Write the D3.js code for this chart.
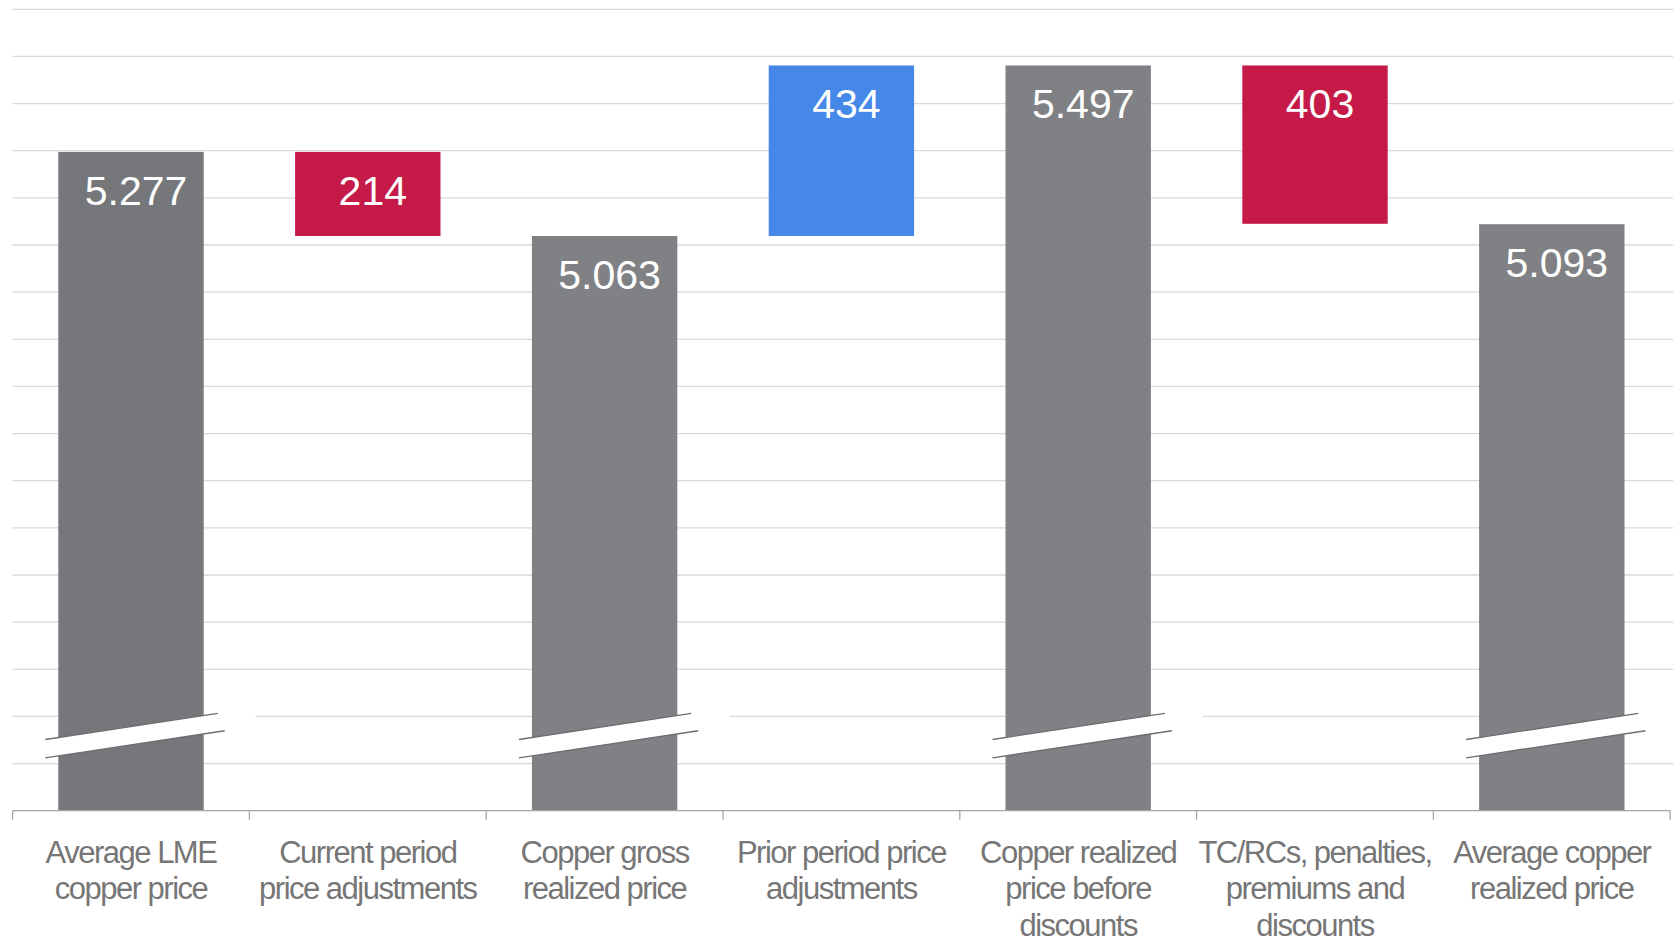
<!DOCTYPE html>
<html>
<head>
<meta charset="utf-8">
<script src="https://cdn.jsdelivr.net/npm/d3@7"></script>
<style>
  html, body { margin: 0; padding: 0; background: #ffffff; }
  svg { display: block; }
</style>
</head>
<body>
<svg id="chart" width="1675" height="942"></svg>
<script>
// Copper price bridge (US$/t): LME average to realized price
const categories = [
  "Average LME copper price",
  "Current period price adjustments",
  "Copper gross realized price",
  "Prior period price adjustments",
  "Copper realized price before discounts",
  "TC/RCs, penalties, premiums and discounts",
  "Average copper realized price"
];
const categoryLines = [
  ["Average LME", "copper price"],
  ["Current period", "price adjustments"],
  ["Copper gross", "realized price"],
  ["Prior period price", "adjustments"],
  ["Copper realized", "price before", "discounts"],
  ["TC/RCs, penalties,", "premiums and", "discounts"],
  ["Average copper", "realized price"]
];
// "total" bars start from the axis; "delta" bars float from the running total
const stepKinds  = ["total", "delta", "total", "delta", "total", "delta", "total"];
const stepValues = [5277, -214, 5063, 434, 5497, -403, 5093];
const valueLabels = ["5.277", "214", "5.063", "434", "5.497", "403", "5.093"];

// value axis (broken at the bottom, labels hidden)
const yMin = 3600, yMax = 5640, yStep = 120;

const svg = d3.select("#chart");
const plotLeft = 12.6, plotRight = 1670.2, plotTop = 9.3, plotBottom = 810.7;

const x = d3.scaleBand()
  .domain(categories)
  .range([plotLeft, plotRight])
  .paddingInner(0.386)
  .paddingOuter(0.386 / 2);

const y = d3.scaleLinear().domain([yMin, yMax]).range([plotBottom, plotTop]);

// gridlines
const gridVals = d3.range(yMin + yStep, yMax + 1, yStep);
svg.append("g")
  .selectAll("line")
  .data(gridVals)
  .join("line")
  .attr("x1", plotLeft).attr("x2", plotRight + 3)
  .attr("y1", d => y(d)).attr("y2", d => y(d))
  .attr("stroke", "#d9d9d9")
  .attr("stroke-width", 1.3);

// bar extents for the waterfall
let running = 0;
const bars = categories.map((c, i) => {
  let lo, hi, color;
  if (stepKinds[i] === "total") {
    lo = yMin; hi = stepValues[i]; running = stepValues[i];
    color = i === 0 ? "#76777a" : "#808184";
  } else {
    const start = running, end = running + stepValues[i];
    lo = Math.min(start, end); hi = Math.max(start, end);
    running = end;
    color = stepValues[i] < 0 ? "#c51a47" : "#4688e8";
  }
  return { cat: c, i, lo, hi, color, kind: stepKinds[i], label: valueLabels[i] };
});

svg.append("g")
  .selectAll("rect")
  .data(bars)
  .join("rect")
  .attr("x", d => x(d.cat))
  .attr("width", x.bandwidth())
  .attr("y", d => y(d.hi))
  .attr("height", d => y(d.lo) - y(d.hi))
  .attr("fill", d => d.color);

// axis break marks across the total bars
const slope = -0.151;
const breakOffset = 75;   // px above the axis at bar centre
const halfGap = 9.2;
const breaks = svg.append("g");
bars.filter(d => d.kind === "total").forEach(d => {
  const bx0 = x(d.cat), bx1 = bx0 + x.bandwidth();
  const cx = bx0 + x.bandwidth() / 2;
  const cy = plotBottom - breakOffset;
  const lineY = (px, off) => cy + off + slope * (px - cx);
  const fx0 = bx0 - 14, fx1 = bx1 + 52;
  breaks.append("path")
    .attr("d", `M${fx0},${lineY(fx0, -halfGap)} L${fx1},${lineY(fx1, -halfGap)} L${fx1},${lineY(fx1, halfGap)} L${fx0},${lineY(fx0, halfGap)} Z`)
    .attr("fill", "#ffffff");
  const lx0 = bx0 - 13;
  breaks.append("line")
    .attr("x1", lx0).attr("y1", lineY(lx0, -halfGap))
    .attr("x2", bx1 + 14).attr("y2", lineY(bx1 + 14, -halfGap))
    .attr("stroke", "#6d6e71").attr("stroke-width", 1.4);
  breaks.append("line")
    .attr("x1", lx0).attr("y1", lineY(lx0, halfGap))
    .attr("x2", bx1 + 21).attr("y2", lineY(bx1 + 21, halfGap))
    .attr("stroke", "#6d6e71").attr("stroke-width", 1.4);
});

// category axis
const axisG = svg.append("g");
axisG.append("line")
  .attr("x1", plotLeft).attr("x2", plotRight)
  .attr("y1", plotBottom).attr("y2", plotBottom)
  .attr("stroke", "#a6a6a6").attr("stroke-width", 1.3);
const sepX = categories.map(c => x(c) - x.step() * x.paddingInner() / 2)
  .concat([plotRight]);
axisG.selectAll("line.sep")
  .data(sepX)
  .join("line")
  .attr("class", "sep")
  .attr("x1", d => d).attr("x2", d => d)
  .attr("y1", plotBottom).attr("y2", plotBottom + 9)
  .attr("stroke", "#a6a6a6").attr("stroke-width", 1.3);

const labelG = svg.append("g")
  .attr("font-family", "'Liberation Sans', Arial, sans-serif")
  .attr("font-size", 31)
  .attr("letter-spacing", "-1.5px")
  .attr("fill", "#767676")
  .attr("text-anchor", "middle");
categories.forEach((c, i) => {
  const cxl = x(c) + x.bandwidth() / 2;
  const t = labelG.append("text")
    .attr("x", cxl)
    .attr("y", 862.5);
  categoryLines[i].forEach((ln, k) => {
    t.append("tspan")
      .attr("x", cxl)
      .attr("dy", k === 0 ? 0 : 36.8)
      .text(ln);
  });
});

// value labels inside the bars
svg.append("g")
  .selectAll("text")
  .data(bars)
  .join("text")
  .attr("x", d => x(d.cat) + x.bandwidth() / 2 + 5)
  .attr("y", d => y(d.hi) + 53)
  .attr("text-anchor", "middle")
  .attr("font-family", "'Liberation Sans', Arial, sans-serif")
  .attr("font-size", 41)
  .attr("fill", "#ffffff")
  .text(d => d.label);
</script>
</body>
</html>
